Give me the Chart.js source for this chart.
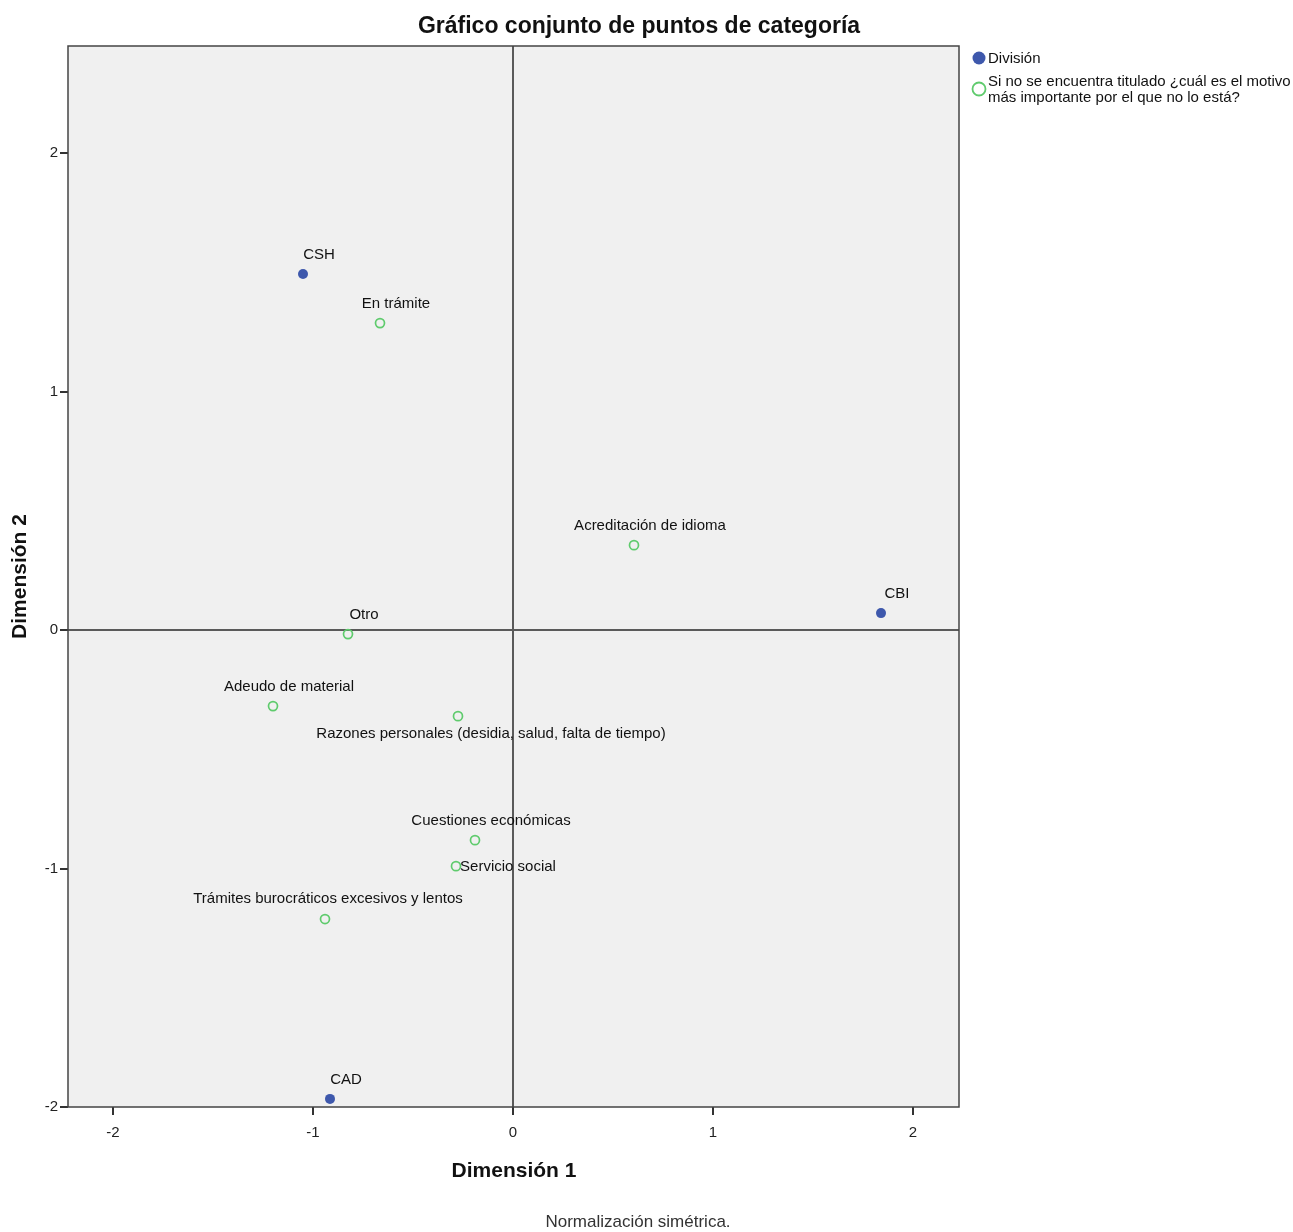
<!DOCTYPE html>
<html>
<head>
<meta charset="utf-8">
<script src="https://cdn.jsdelivr.net/npm/chart.js@4.4.0/dist/chart.umd.min.js"></script>
<style>
  body { margin: 0; background: #fff; }
  #wrap { width: 1293px; height: 1232px; }
</style>
</head>
<body>
<div id="wrap"><canvas id="myChart" width="1293" height="1232"></canvas></div>
<script>
const FONT = '"Liberation Sans Narrow", "Liberation Sans", Arial, sans-serif';

// Division categories
const divisionLabels = ["CSH", "CBI", "CAD"];
const divisionX = [-1.05, 1.84, -0.915];
const divisionY = [1.493, 0.071, -1.966];

// Reason categories
const reasonLabels = [
  "En trámite",
  "Acreditación de idioma",
  "Otro",
  "Adeudo de material",
  "Razones personales (desidia, salud, falta de tiempo)",
  "Cuestiones económicas",
  "Servicio social",
  "Trámites burocráticos excesivos y lentos",
];
const reasonX = [-0.665, 0.605, -0.825, -1.2, -0.275, -0.19, -0.285, -0.94];
const reasonY = [1.287, 0.356, -0.017, -0.319, -0.361, -0.881, -0.99, -1.212];

const xTicks = [-2, -1, 0, 1, 2];
const yTicks = [-2, -1, 0, 1, 2];

// label placement tweaks (pixels), default is above-right
const labelShift = {
  "Razones personales (desidia, salud, falta de tiempo)": [33, 18],
  "Servicio social": [52, 1],
  "Trámites burocráticos excesivos y lentos": [3, -20],
};

const spssPlugin = {
  id: "spss",
  beforeDraw(chart) {
    const { ctx, chartArea: a } = chart;
    ctx.save();
    ctx.fillStyle = "#f0f0f0";
    ctx.fillRect(a.left, a.top, a.right - a.left, a.bottom - a.top);
    ctx.restore();
  },
  beforeDatasetsDraw(chart) {
    const { ctx, chartArea: a, scales } = chart;
    const x0 = scales.x.getPixelForValue(0);
    const y0 = scales.y.getPixelForValue(0);
    ctx.save();
    ctx.strokeStyle = "#5a5a5a";
    ctx.lineWidth = 2;
    ctx.beginPath();
    ctx.moveTo(x0, a.top); ctx.lineTo(x0, a.bottom);
    ctx.moveTo(a.left, y0); ctx.lineTo(a.right, y0);
    ctx.stroke();
    ctx.strokeStyle = "#444";
    ctx.lineWidth = 1.5;
    ctx.strokeRect(a.left, a.top, a.right - a.left, a.bottom - a.top);
    ctx.restore();
  },
  afterDatasetsDraw(chart) {
    const { ctx, chartArea: a } = chart;
    ctx.save();
    ctx.fillStyle = "#111";
    ctx.font = "15px " + FONT;
    ctx.textAlign = "center";
    ctx.textBaseline = "middle";
    chart.data.datasets.forEach((ds, di) => {
      const meta = chart.getDatasetMeta(di);
      meta.data.forEach((el, i) => {
        const txt = ds.pointNames[i];
        const sh = labelShift[txt] || [16, -19];
        ctx.fillText(txt, el.x + sh[0], el.y + sh[1]);
      });
    });

    // title
    ctx.font = "bold 23px " + FONT;
    ctx.fillText("Gráfico conjunto de puntos de categoría", 639, 27);
    // axis titles
    ctx.font = "bold 21px " + FONT;
    ctx.fillText("Dimensión 1", 514, 1171);
    ctx.save();
    ctx.translate(20, (a.top + a.bottom) / 2);
    ctx.rotate(-Math.PI / 2);
    ctx.fillText("Dimensión 2", 0, 0);
    ctx.restore();
    // footnote
    ctx.font = "17px " + FONT;
    ctx.fillStyle = "#333";
    ctx.fillText("Normalización simétrica.", 638, 1222);

    // legend
    ctx.textAlign = "left";
    ctx.font = "15px " + FONT;
    ctx.fillStyle = "#3e58ac";
    ctx.beginPath(); ctx.arc(979, 58, 6.5, 0, Math.PI * 2); ctx.fill();
    ctx.fillStyle = "#111";
    ctx.fillText("División", 988, 59);
    ctx.strokeStyle = "#5fcb6d";
    ctx.lineWidth = 1.8;
    ctx.beginPath(); ctx.arc(979, 89, 6.5, 0, Math.PI * 2); ctx.stroke();
    ctx.fillText("Si no se encuentra titulado ¿cuál es el motivo", 988, 82);
    ctx.fillText("más importante por el que no lo está?", 988, 98);
    ctx.restore();
  },
};

new Chart(document.getElementById("myChart"), {
  type: "scatter",
  data: {
    datasets: [
      {
        label: "División",
        data: divisionX.map((x, i) => ({ x, y: divisionY[i] })),
        pointNames: divisionLabels,
        pointRadius: 5,
        pointBackgroundColor: "#3e58ac",
        pointBorderColor: "#3e58ac",
        pointBorderWidth: 0,
      },
      {
        label: "Si no se encuentra titulado ¿cuál es el motivo más importante por el que no lo está?",
        data: reasonX.map((x, i) => ({ x, y: reasonY[i] })),
        pointNames: reasonLabels,
        pointRadius: 4.5,
        pointBackgroundColor: "rgba(0,0,0,0)",
        pointBorderColor: "#5fcb6d",
        pointBorderWidth: 1.7,
      },
    ],
  },
  options: {
    responsive: false,
    animation: false,
    events: [],
    layout: { padding: { left: 0, right: 334, top: 46, bottom: 25 } },
    plugins: { legend: { display: false }, title: { display: false }, tooltip: { enabled: false } },
    scales: {
      x: {
        type: "linear",
        min: -2.225,
        max: 2.23,
        afterBuildTicks: (s) => { s.ticks = xTicks.map((v) => ({ value: v })); },
        afterFit: (s) => { s.height = 100; },
        border: { display: false },
        grid: { drawOnChartArea: false, tickLength: 8, color: "#333", lineWidth: 2 },
        ticks: { color: "#222", font: { family: FONT, size: 15 }, padding: 9, maxRotation: 0 },
      },
      y: {
        type: "linear",
        min: -2,
        max: 2.449,
        afterBuildTicks: (s) => { s.ticks = yTicks.map((v) => ({ value: v })); },
        afterFit: (s) => { s.width = 68; },
        border: { display: false },
        grid: { drawOnChartArea: false, tickLength: 8, color: "#333", lineWidth: 2 },
        ticks: { color: "#222", font: { family: FONT, size: 15 }, padding: 2 },
      },
    },
  },
  plugins: [spssPlugin],
});
</script>
</body>
</html>
